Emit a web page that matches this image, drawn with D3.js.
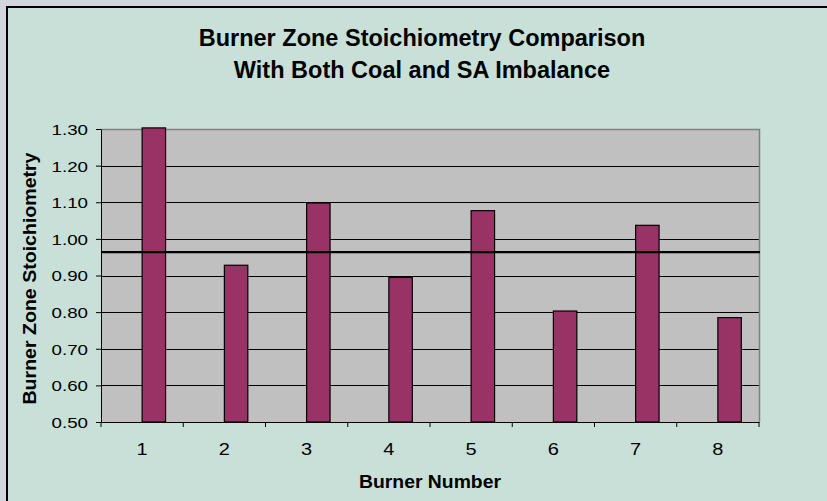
<!DOCTYPE html>
<html>
<head>
<meta charset="utf-8">
<script src="https://cdn.jsdelivr.net/npm/d3@7"></script>
<style>
  html, body { margin: 0; padding: 0; background: #d1d5de; }
  svg { display: block; }
  text { font-family: "Liberation Sans", Arial, sans-serif; fill: #000; }
</style>
</head>
<body>
<svg id="chart" width="827" height="501"></svg>
<script>
// ---- data ----
const burners = ["1", "2", "3", "4", "5", "6", "7", "8"];
const stoichiometry = [1.303, 0.928, 1.098, 0.895, 1.077, 0.803, 1.037, 0.785];
const averageLine = 0.964;
const yTicks = [0.50, 0.60, 0.70, 0.80, 0.90, 1.00, 1.10, 1.20, 1.30];
const titleLines = ["Burner Zone Stoichiometry Comparison", "With Both Coal and SA Imbalance"];
const xTitle = "Burner Number";
const yTitle = "Burner Zone Stoichiometry";

// ---- layout ----
const W = 827, H = 501;
const plot = { left: 101, right: 759, top: 129, bottom: 422 };
const svg = d3.select("#chart");

// chart area frame
svg.append("rect").attr("x", 7).attr("y", 7).attr("width", 900).attr("height", 600)
  .attr("fill", "#c8e0d8").attr("stroke", "#000").attr("stroke-width", 2);

// title
svg.append("g").selectAll("text").data(titleLines).join("text")
  .attr("x", 422).attr("y", (d, i) => 46 + i * 31.6)
  .attr("text-anchor", "middle").attr("font-weight", "bold").attr("font-size", 23.5)
  .text(d => d);

// scales
const x = d3.scaleBand().domain(burners).range([plot.left, plot.right]).padding(0);
const y = d3.scaleLinear().domain([0.5, 1.3]).range([plot.bottom, plot.top]);

// plot background
svg.append("rect").attr("x", plot.left).attr("y", plot.top)
  .attr("width", plot.right - plot.left).attr("height", plot.bottom - plot.top)
  .attr("fill", "#c0c0c0");

// gridlines
svg.append("g").selectAll("line").data(yTicks.slice(1, -1)).join("line")
  .attr("x1", plot.left).attr("x2", plot.right)
  .attr("y1", d => Math.round(y(d)) + 0.5).attr("y2", d => Math.round(y(d)) + 0.5)
  .attr("stroke", "#000").attr("stroke-width", 1);

// plot border top/right (grey)
svg.append("path")
  .attr("d", `M${plot.left},${plot.top + 0.5}H${plot.right + 0.5}V${plot.bottom}`)
  .attr("fill", "none").attr("stroke", "#808080").attr("stroke-width", 1.5);

// bars (second half of each category band)
const barW = x.bandwidth() * 0.285;
svg.append("g").selectAll("rect").data(stoichiometry).join("rect")
  .attr("x", (d, i) => x(burners[i]) + x.bandwidth() / 2)
  .attr("y", d => y(d))
  .attr("width", barW)
  .attr("height", d => y(0.5) - y(d))
  .attr("fill", "#993366").attr("stroke", "#000").attr("stroke-width", 1.2);

// reference line
svg.append("line")
  .attr("x1", plot.left).attr("x2", plot.right + 1)
  .attr("y1", y(averageLine)).attr("y2", y(averageLine))
  .attr("stroke", "#000").attr("stroke-width", 2.2);

// helper for horizontally stretched text
function stretch(sel, k) {
  sel.each(function () {
    const t = d3.select(this);
    const xv = +t.attr("x") || 0;
    t.attr("x", xv / k).attr("transform", `scale(${k},1)`);
  });
}

// y axis
const yAxis = svg.append("g").attr("transform", `translate(${plot.left},0)`)
  .call(d3.axisLeft(y).tickValues(yTicks).tickFormat(d3.format(".2f"))
    .tickSize(5).tickSizeOuter(0).tickPadding(8));
yAxis.select(".domain").attr("stroke", "#000");
yAxis.selectAll(".tick line").attr("stroke", "#000");
yAxis.selectAll(".tick text").attr("font-size", 15).attr("font-family", "Liberation Sans, Arial, sans-serif")
  .attr("dy", "0.36em").call(stretch, 1.25);

// x axis
const xAxis = svg.append("g").attr("transform", `translate(0,${plot.bottom})`)
  .call(d3.axisBottom(x).tickSize(0).tickSizeOuter(0).tickPadding(0));
xAxis.select(".domain").attr("stroke", "#000");
xAxis.selectAll(".tick text").attr("font-size", 16).attr("font-family", "Liberation Sans, Arial, sans-serif")
  .attr("y", 33).attr("dy", 0).call(stretch, 1.25);
// tick marks at category boundaries
xAxis.append("g").selectAll("line").data(d3.range(burners.length + 1)).join("line")
  .attr("x1", i => x.range()[0] + i * x.step()).attr("x2", i => x.range()[0] + i * x.step())
  .attr("y1", 0).attr("y2", 5).attr("stroke", "#000");

// axis titles
svg.append("text").attr("x", (plot.left + plot.right) / 2).attr("y", 488)
  .attr("text-anchor", "middle").attr("font-weight", "bold").attr("font-size", 17.5)
  .attr("textLength", 142).attr("lengthAdjust", "spacingAndGlyphs")
  .text(xTitle);

svg.append("text")
  .attr("transform", `translate(36,${(plot.top + plot.bottom) / 2 + 3}) rotate(-90)`)
  .attr("text-anchor", "middle").attr("font-weight", "bold").attr("font-size", 17.5)
  .attr("textLength", 252).attr("lengthAdjust", "spacingAndGlyphs")
  .text(yTitle);
</script>
</body>
</html>
